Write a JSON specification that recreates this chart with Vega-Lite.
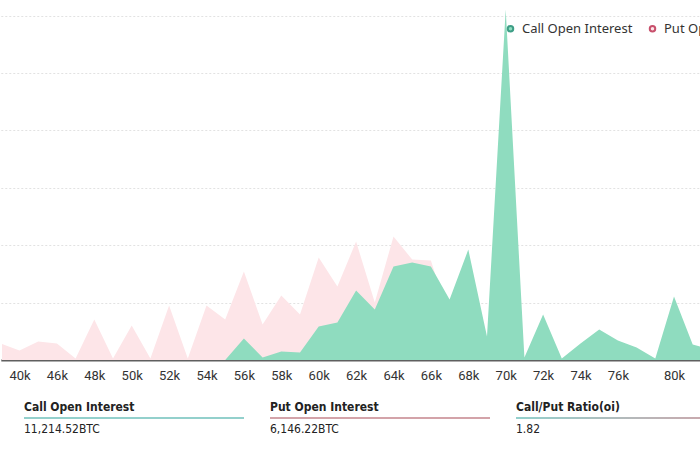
{
  "$schema": "https://vega.github.io/schema/vega-lite/v6.json",
  "padding": 0,
  "background": "white",
  "spacing": 14,
  "config": {"view": {"stroke": null}},
  "resolve": {"scale": {"color": "independent"}, "legend": {"color": "independent"}},
  "vconcat": [
    {
      "width": 700,
      "height": 360,
      "data": {
        "values": [
          {"strike": 35000, "call": 0, "put": 144},
          {"strike": 40000, "call": 0, "put": 83},
          {"strike": 45000, "call": 0, "put": 161},
          {"strike": 46000, "call": 0, "put": 144},
          {"strike": 47000, "call": 0, "put": 13},
          {"strike": 48000, "call": 0, "put": 353},
          {"strike": 49000, "call": 0, "put": 13},
          {"strike": 50000, "call": 0, "put": 300},
          {"strike": 51000, "call": 0, "put": 13},
          {"strike": 52000, "call": 0, "put": 475},
          {"strike": 53000, "call": 0, "put": 13},
          {"strike": 54000, "call": 0, "put": 475},
          {"strike": 55000, "call": 0, "put": 353},
          {"strike": 56000, "call": 187, "put": 771},
          {"strike": 57000, "call": 22, "put": 309},
          {"strike": 58000, "call": 74, "put": 562},
          {"strike": 59000, "call": 65, "put": 396},
          {"strike": 60000, "call": 292, "put": 893},
          {"strike": 61000, "call": 327, "put": 640},
          {"strike": 62000, "call": 605, "put": 1032},
          {"strike": 63000, "call": 440, "put": 501},
          {"strike": 64000, "call": 814, "put": 1076},
          {"strike": 65000, "call": 849, "put": 875},
          {"strike": 66000, "call": 814, "put": 867},
          {"strike": 67000, "call": 527, "put": 353},
          {"strike": 68000, "call": 962, "put": 527},
          {"strike": 69000, "call": 205, "put": 135},
          {"strike": 70000, "call": 3053, "put": 701},
          {"strike": 71000, "call": 22, "put": 4},
          {"strike": 72000, "call": 396, "put": 179},
          {"strike": 73000, "call": 13, "put": 4},
          {"strike": 74000, "call": 144, "put": 74},
          {"strike": 75000, "call": 266, "put": 135},
          {"strike": 76000, "call": 170, "put": 91},
          {"strike": 77000, "call": 109, "put": 57},
          {"strike": 78000, "call": 13, "put": 4},
          {"strike": 80000, "call": 553, "put": 266},
          {"strike": 82000, "call": 135, "put": 74},
          {"strike": 84000, "call": 91, "put": 48}
        ]
      },
      "transform": [{"fold": ["call", "put"], "as": ["type", "oi"]}],
      "encoding": {
        "x": {
          "field": "strike",
          "type": "ordinal",
          "scale": {"type": "point", "padding": 0, "range": [-1.2, 709.4]},
          "axis": {
            "title": null,
            "ticks": false,
            "grid": false,
            "labelAngle": 0,
            "labelOverlap": false,
            "labelFont": "Roboto",
            "labelFontSize": 13,
            "labelColor": "#333333",
            "labelPadding": 9,
            "domainColor": "#5f5f5f",
            "domainWidth": 2,
            "labelExpr": "indexof([40000,46000,48000,50000,52000,54000,56000,58000,60000,62000,64000,66000,68000,70000,72000,74000,76000,80000], datum.value) >= 0 ? (datum.value/1000) + 'k' : ''"
          }
        },
        "y": {
          "field": "oi",
          "type": "quantitative",
          "stack": null,
          "scale": {"domain": [0, 3136], "nice": false, "zero": true},
          "axis": {
            "title": null,
            "labels": false,
            "ticks": false,
            "domain": false,
            "values": [500, 1000, 1500, 2000, 2500, 3000],
            "gridColor": "#e2e2e2",
            "gridDash": [2, 2],
            "gridWidth": 1
          }
        },
        "color": {
          "field": "type",
          "type": "nominal",
          "scale": {"domain": ["call", "put"], "range": ["#8fdcbf", "#fde5e8"]},
          "legend": {
            "title": null,
            "orient": "none",
            "legendX": 502,
            "legendY": 22,
            "direction": "horizontal",
            "symbolType": "circle",
            "symbolSize": 30,
            "symbolStrokeWidth": 2,
            "labelFont": "Noto Sans",
            "labelFontSize": 13,
            "labelColor": "#333333",
            "labelOffset": 5,
            "columnPadding": 12,
            "labelExpr": "datum.label == 'call' ? 'Call Open Interest' : 'Put Open Interest'",
            "encode": {
              "symbols": {
                "update": {
                  "fill": {"value": "#ffffff"},
                  "stroke": {"signal": "datum.value == 'call' ? '#3e9e86' : '#c8506c'"},
                  "strokeWidth": {"value": 2}
                }
              }
            }
          }
        }
      },
      "layer": [
        {
          "transform": [{"filter": "datum.type == 'put'"}],
          "mark": {"type": "area", "clip": true, "interpolate": "linear"}
        },
        {
          "transform": [{"filter": "datum.type == 'call'"}],
          "mark": {"type": "area", "clip": true, "interpolate": "linear"}
        }
      ]
    },
    {
      "width": 700,
      "height": 44,
      "data": {
        "values": [
          {"item": "Call Open Interest", "value": "11,214.52BTC", "kind": "call"},
          {"item": "Put Open Interest", "value": "6,146.22BTC", "kind": "put"},
          {"item": "Call/Put Ratio(oi)", "value": "1.82", "kind": "ratio"}
        ]
      },
      "encoding": {
        "x": {
          "field": "item",
          "type": "nominal",
          "sort": null,
          "scale": {"type": "band", "range": [22, 734], "paddingInner": 0.1057, "paddingOuter": 0},
          "axis": null
        }
      },
      "layer": [
        {
          "transform": [{"filter": "datum.kind != 'ratio'"}],
          "mark": {"type": "tick", "orient": "horizontal", "thickness": 1.3, "opacity": 1},
          "encoding": {
            "size": {"value": 220},
            "color": {
              "field": "kind",
              "type": "nominal",
              "scale": {"domain": ["call", "put"], "range": ["#6fc0bb", "#c4848c"]},
              "legend": null
            }
          }
        },
        {
          "transform": [{"filter": "datum.kind == 'ratio'"}],
          "mark": {
            "type": "tick",
            "orient": "horizontal",
            "thickness": 1.3,
            "opacity": 1,
            "color": {
              "gradient": "linear",
              "x1": 0, "x2": 1, "y1": 0, "y2": 0,
              "stops": [
                {"offset": 0, "color": "#6fc0bb"},
                {"offset": 1, "color": "#c4848c"}
              ]
            }
          },
          "encoding": {"size": {"value": 220}}
        },
        {
          "mark": {
            "type": "text",
            "align": "left",
            "baseline": "middle",
            "dy": -11,
            "font": "DejaVu Sans Condensed, Roboto",
            "fontWeight": "bold",
            "fontSize": 12,
            "color": "#222222"
          },
          "encoding": {
            "x": {"field": "item", "type": "nominal", "sort": null, "bandPosition": 0},
            "text": {"field": "item"}
          }
        },
        {
          "mark": {
            "type": "text",
            "align": "left",
            "baseline": "middle",
            "dy": 11,
            "font": "DejaVu Sans Condensed, Roboto",
            "fontSize": 12,
            "color": "#222222"
          },
          "encoding": {
            "x": {"field": "item", "type": "nominal", "sort": null, "bandPosition": 0},
            "text": {"field": "value"}
          }
        }
      ]
    }
  ]
}
